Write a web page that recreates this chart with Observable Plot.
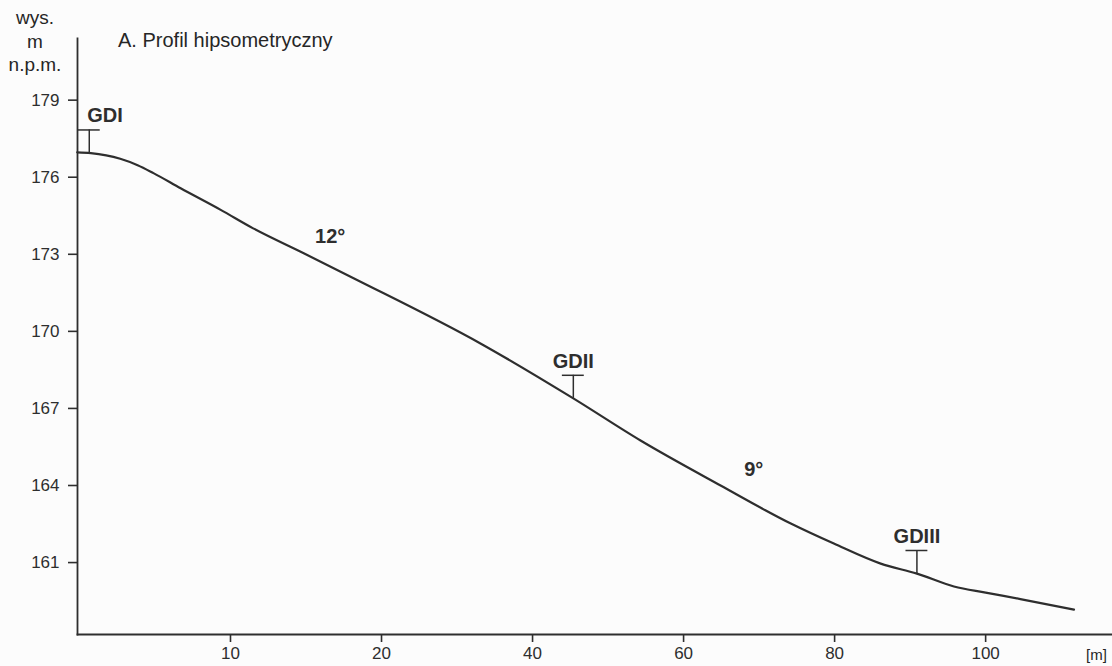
<!DOCTYPE html>
<html>
<head>
<meta charset="utf-8">
<script src="https://cdn.jsdelivr.net/npm/d3@7"></script>
<script src="https://cdn.jsdelivr.net/npm/@observablehq/plot@0.6"></script>
<style>
  body { margin: 0; background: #fcfcfc; }
  #fig { position: relative; width: 1112px; height: 666px; font-family: "Liberation Sans", Arial, sans-serif; color: #262626; }
  #fig svg { position: absolute; left: 0; top: 0; }
  #fig svg g[aria-label$="tick label"] text { font-size: 17px; }
  #unit { position: absolute; left: 0; top: 6px; width: 70px; text-align: center; font-size: 19px; line-height: 23.5px; }
  #title { position: absolute; left: 118px; top: 30px; font-size: 20px; line-height: 20px; white-space: nowrap; }
  #xunit { position: absolute; left: 1086px; top: 647px; font-size: 15px; line-height: 15px; }
</style>
</head>
<body>
<div id="fig">
  <div id="unit">wys.<br>m<br>n.p.m.</div>
  <div id="title">A. Profil hipsometryczny</div>
  <div id="xunit">[m]</div>
</div>
<script>
// Slope profile: distance along the transect [m] and elevation [m n.p.m.]
const distance  = [-20.3, -18.5, -14.6, -12.3, -10.2, -6.6, -1.3, 3.0, 9.7, 16.3, 33.1, 45.4, 54.3, 64.9, 74.2, 79.9, 86.1, 90.9, 95.8, 100.0, 104.6, 111.7];
const elevation = [176.97, 176.94, 176.72, 176.47, 176.16, 175.57, 174.73, 174.01, 173.04, 172.07, 169.53, 167.39, 165.75, 164.0, 162.52, 161.74, 160.96, 160.57, 160.07, 159.83, 159.58, 159.17];

// Soil pits (odkrywki) along the profile
const pitNames = ["GDI", "GDII", "GDIII"];
const pitDistance = [-18.7, 45.4, 90.9];
const pitElevation = [176.94, 167.39, 160.57];

// Slope inclination labels
const slopeLabels = ["12°", "9°"];
const slopeDistance = [13.2, 69.3];
const slopeElevation = [173.7, 164.6];

// Axis ticks
const elevTicks = [161, 164, 167, 170, 173, 176, 179];
const distTicks = [0, 20, 40, 60, 80, 100];
const distTickLabels = ["10", "20", "40", "60", "80", "100"];

const profile = distance.map((x, i) => ({x, y: elevation[i]}));
const pits = pitNames.map((name, i) => ({name, x: pitDistance[i], y: pitElevation[i]}));
const slopes = slopeLabels.map((label, i) => ({label, x: slopeDistance[i], y: slopeElevation[i]}));
const tickLabel = new Map(distTicks.map((d, i) => [d, distTickLabels[i]]));

const ink = "#2e2e2e";
const pitStem = 0.9;   // height of the pit marker above ground [m]
const pitHalf = 1.45;  // half width of the marker's crossbar [m]
const pitText = 1.45;  // label offset above ground [m]

const chart = Plot.plot({
  width: 1112,
  height: 666,
  marginLeft: 77,
  marginRight: 0,
  marginTop: 38,
  marginBottom: 32,
  style: {fontFamily: "'Liberation Sans', Arial, sans-serif", fontSize: "17px", color: ink, background: "transparent"},
  x: {domain: [-20.26, 116.8]},
  y: {domain: [158.2, 181.4]},
  marks: [
    Plot.axisY({ticks: elevTicks, tickSize: 9, tickPadding: 9, label: null, stroke: ink, strokeWidth: 1.6}),
    Plot.axisX({ticks: distTicks, tickFormat: d => tickLabel.get(d), tickSize: 8, tickPadding: 4, label: null, stroke: ink, strokeWidth: 1.6}),
    Plot.frame({anchor: "left", stroke: ink, strokeWidth: 1.8}),
    Plot.frame({anchor: "bottom", stroke: ink, strokeWidth: 1.8}),
    Plot.line(profile, {x: "x", y: "y", curve: "monotone-x", stroke: ink, strokeWidth: 2.2}),
    Plot.ruleX(pits, {x: "x", y1: "y", y2: d => d.y + pitStem, stroke: ink, strokeWidth: 1.5}),
    Plot.ruleY(pits, {y: d => d.y + pitStem, x1: d => d.x - pitHalf, x2: d => d.x + pitHalf, stroke: ink, strokeWidth: 1.5}),
    Plot.text(pits.slice(0, 1), {x: "x", y: d => d.y + pitText, text: "name", textAnchor: "start", dx: -2, fontSize: 20, fontWeight: "bold", fill: ink}),
    Plot.text(pits.slice(1), {x: "x", y: d => d.y + pitText, text: "name", fontSize: 20, fontWeight: "bold", fill: ink}),
    Plot.text(slopes, {x: "x", y: "y", text: "label", fontSize: 20, fontWeight: "bold", fill: ink})
  ]
});

document.getElementById("fig").prepend(chart);
</script>
</body>
</html>
